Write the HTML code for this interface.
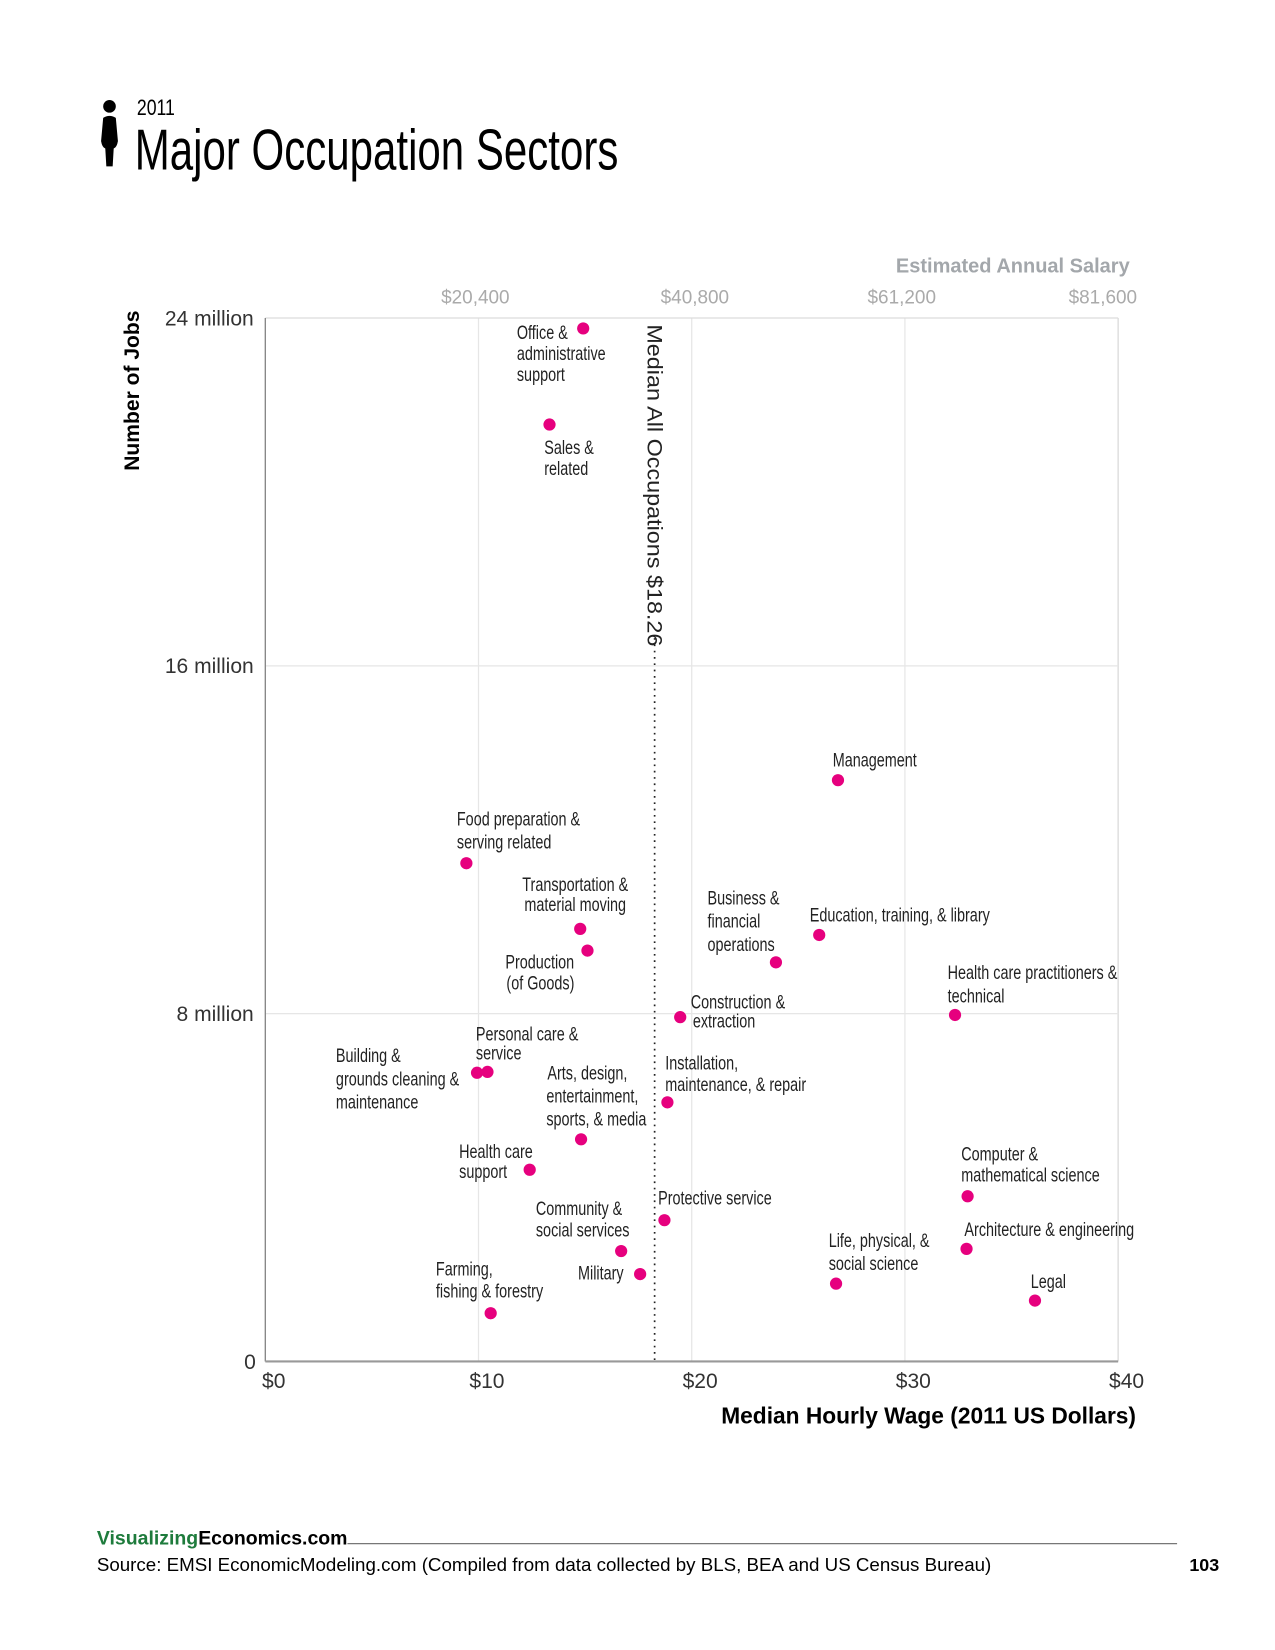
<!DOCTYPE html>
<html><head><meta charset="utf-8"><style>
html,body{margin:0;padding:0;background:#fff;}
svg{display:block;font-family:"Liberation Sans",sans-serif;}
</style></head><body>
<svg id="chart" width="1275" height="1650" viewBox="0 0 1211 1567" preserveAspectRatio="none" xmlns="http://www.w3.org/2000/svg">
<g>
<circle cx="104" cy="101" r="6" fill="#000"/>
<path d="M98,112 Q104,108 110,112 L112,134 Q111,140 108,141 L107,158 L101,158 L100,141 Q97,140 96,134 Z" fill="#000"/>
<text x="130" y="109" font-size="21" transform="scale(0.8,1)" transform-origin="130 109">2011</text>
<text x="128" y="161" font-size="55" transform="scale(0.726,1)" transform-origin="128 161">Major Occupation Sectors</text>
</g>
<g id="axes"></g>
<g id="marks"></g>
<g>
<text x="92" y="1467" font-size="18.5" font-weight="bold"><tspan fill="#1e7b3c">Visualizing</tspan><tspan fill="#000">Economics.com</tspan></text>
<line x1="330" y1="1466" x2="1118" y2="1466" stroke="#777" stroke-width="1.2"/>
<text x="92" y="1492" font-size="17.8">Source: EMSI EconomicModeling.com (Compiled from data collected by BLS, BEA and US Census Bureau)</text>
<text x="1158" y="1492" font-size="17" font-weight="bold" text-anchor="end">103</text>
</g>
</svg>
<script>
const names=["Office & administrative support","Sales & related","Management","Food preparation & serving related","Transportation & material moving","Production (of Goods)","Business & financial operations","Education, training, & library","Health care practitioners & technical","Construction & extraction","Personal care & service","Building & grounds cleaning & maintenance","Installation, maintenance, & repair","Arts, design, entertainment, sports, & media","Health care support","Computer & mathematical science","Protective service","Community & social services","Architecture & engineering","Military","Life, physical, & social science","Legal","Farming, fishing & forestry"];
const wages=[14.91,13.33,26.86,9.43,14.77,15.11,23.95,25.98,32.35,19.46,10.42,9.93,18.86,14.81,12.40,32.94,18.72,16.69,32.89,17.58,26.77,36.10,10.57];
const jobs=[23.76,21.55,13.37,11.46,9.95,9.45,9.18,9.81,7.97,7.92,6.66,6.64,5.96,5.11,4.41,3.80,3.25,2.54,2.59,2.01,1.79,1.40,1.11];
const xTicks=[0,10,20,30,40];
const xTickLabels=["$0","$10","$20","$30","$40"];
const yTicks=[0,8,16,24];
const yTickLabels=["0","8 million","16 million","24 million"];
const salaryTicks=[10,20,30,40];
const salaryLabels=["$20,400","$40,800","$61,200","$81,600"];
const medianWage=18.26;
const labelLines=[
 [["Office &",-63,10],["administrative",-63,30],["support",-63,50]],
 [["Sales &",-5,28],["related",-5,48]],
 [["Management",-5,-13]],
 [["Food preparation &",-9,-36],["serving related",-9,-14]],
 [["Transportation &",-55,-36],["material moving",-53,-17]],
 [["Production",-78,17],["(of Goods)",-77,37]],
 [["Business &",-65,-55],["financial",-65,-33],["operations",-65,-11]],
 [["Education, training, & library",-9,-13]],
 [["Health care practitioners &",-7,-34],["technical",-7,-12]],
 [["Construction &",10,-8],["extraction",12,10]],
 [["Personal care &",-11,-30],["service",-11,-12]],
 [["Building &",-134,-10],["grounds cleaning &",-134,12],["maintenance",-134,34]],
 [["Installation,",-2,-31],["maintenance, & repair",-2,-11]],
 [["Arts, design,",-32,-57],["entertainment,",-33,-35],["sports, & media",-33,-13]],
 [["Health care",-67,-11],["support",-67,8]],
 [["Computer &",-6,-34],["mathematical science",-6,-14]],
 [["Protective service",-6,-15]],
 [["Community &",-81,-34],["social services",-81,-14]],
 [["Architecture & engineering",-2,-12]],
 [["Military",-59,5]],
 [["Life, physical, &",-7,-35],["social science",-7,-13]],
 [["Legal",-4,-12]],
 [["Farming,",-52,-36],["fishing & forestry",-52,-15]]
];
const X0=252,X1=1062,Y0=1293,Y1=302;
const xs=v=>X0+(v/40)*(X1-X0);
const ys=v=>Y0-(v/24)*(Y0-Y1);
const NS="http://www.w3.org/2000/svg";
function mk(tag,attrs,parent,txt){const e=document.createElementNS(NS,tag);for(const k in attrs)e.setAttribute(k,attrs[k]);if(txt!==undefined)e.textContent=txt;parent.appendChild(e);return e;}
const ax=document.getElementById('axes'),mg=document.getElementById('marks');
xTicks.forEach(t=>{if(t>0){const l=mk('line',{x1:xs(t),x2:xs(t),y1:Y1,y2:Y0,stroke:t===40?'#d8d8d8':'#e6e6e6','stroke-width':1.2},ax);

}});
yTicks.forEach(t=>{if(t>0){const l=mk('line',{x1:X0,x2:X1,y1:ys(t),y2:ys(t),stroke:t===24?'#dcdcdc':'#e6e6e6','stroke-width':1.2},ax);

}});
let a=mk('line',{x1:X0,x2:X0,y1:Y1,y2:Y0,stroke:'#888','stroke-width':1.3},ax);


a=mk('line',{x1:X0,x2:X1,y1:Y0,y2:Y0,stroke:'#999','stroke-width':2},ax);


xTicks.forEach((t,i)=>{const e=mk('text',{x:xs(t)+8,y:1318,'font-size':20,'text-anchor':'middle',fill:'#333'},ax,xTickLabels[i]);

});
yTicks.forEach((t,i)=>{const e=mk('text',{x:t===0?243:241,y:ys(t)+7,'font-size':20,'text-anchor':'end',fill:'#333'},ax,yTickLabels[i]);

});
salaryTicks.forEach((t,i)=>{const e=mk('text',{x:t===40?1080:xs(t)-3+(t===20?6:0),y:288,'font-size':18,'text-anchor':t===40?'end':'middle',fill:'#aaa'},ax,salaryLabels[i]);

});
let e=mk('text',{x:1073,y:259,'font-size':19,'font-weight':'bold','text-anchor':'end',fill:'#a3a7ab'},ax,'Estimated Annual Salary');


e=mk('text',{x:1079,y:1352,'font-size':21.6,'font-weight':'bold','text-anchor':'end'},ax,'Median Hourly Wage (2011 US Dollars)');


e=mk('text',{x:0,y:0,'font-size':20,'font-weight':'bold','text-anchor':'middle',transform:'translate(132,371) rotate(-90)'},ax,'Number of Jobs');


const mx=xs(medianWage);
e=mk('line',{x1:mx,x2:mx,y1:606,y2:Y0,stroke:'#222','stroke-width':1.6,'stroke-dasharray':'1.6,4.4'},ax);


e=mk('text',{x:0,y:0,'font-size':20,transform:`translate(${mx-7},308) rotate(90) scale(1.11,1)`,fill:'#222'},ax,'Median All Occupations $18.26');


wages.forEach((w,i)=>{const cx=xs(w),cy=ys(jobs[i]);
const c=mk('circle',{cx:cx,cy:cy,r:5.8,fill:'#e6007e'},mg);


labelLines[i].forEach(([t,dx,dy])=>{const tx=cx+dx,ty=cy+dy;
const l=mk('text',{x:tx,y:ty,'font-size':18,fill:'#222',transform:`translate(${tx},0) scale(0.76,1) translate(${-tx},0)`},mg,t);

});
});
</script>
</body></html>
